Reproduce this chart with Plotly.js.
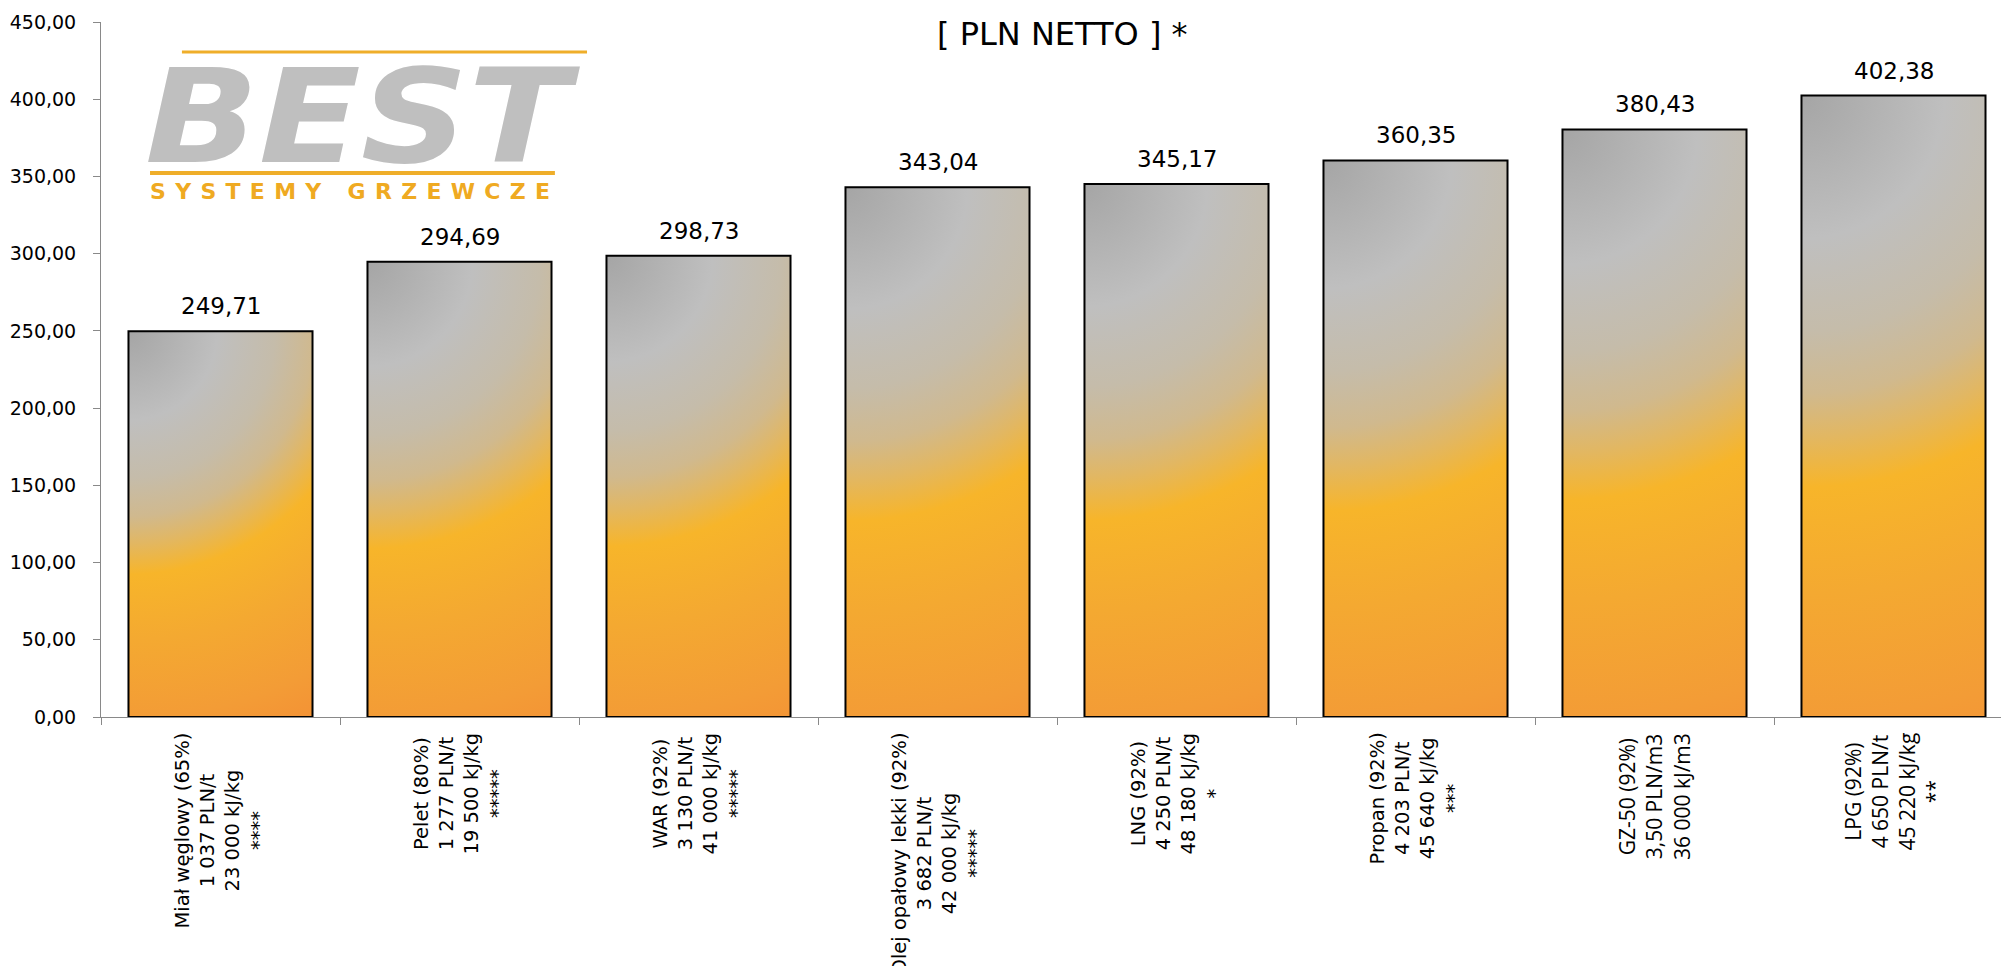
<!DOCTYPE html>
<html>
<head>
<meta charset="utf-8">
<script src="https://cdn.plot.ly/plotly-3.0.1.min.js"></script>
<style>
  html, body { margin: 0; padding: 0; background: #ffffff; }
  #chart { width: 2001px; height: 966px; }
</style>
</head>
<body>
<div id="chart"></div>
<script>
// ---- data ----
const fuels = ['Miał węglowy (65%)', 'Pelet (80%)', 'WAR (92%)', 'Olej opałowy lekki (92%)', 'LNG (92%)', 'Propan (92%)', 'GZ-50 (92%)', 'LPG (92%)'];
const prices = ['1 037 PLN/t', '1 277 PLN/t', '3 130 PLN/t', '3 682 PLN/t', '4 250 PLN/t', '4 203 PLN/t', '3,50 PLN/m3', '4 650 PLN/t'];
const calorific = ['23 000 kJ/kg', '19 500 kJ/kg', '41 000 kJ/kg', '42 000 kJ/kg', '48 180 kJ/kg', '45 640 kJ/kg', '36 000 kJ/m3', '45 220 kJ/kg'];
const notes = ['****', '*****', '*****', '*****', '*', '***', '', '**'];
const costs = [249.71, 294.69, 298.73, 343.04, 345.17, 360.35, 380.43, 402.38];
const yTickVals = [0, 50, 100, 150, 200, 250, 300, 350, 400, 450];
const titleText = '[ PLN NETTO ] *';
const logoMain = 'BEST';
const logoSub = 'SYSTEMY GRZEWCZE';

// ---- helpers ----
const fmt = v => v.toFixed(2).replace('.', ',');
const labelFont = i => (fuels[i].startsWith('GZ') || fuels[i].startsWith('LPG'))
  ? { family: 'Open Sans', size: 21, color: '#000000' }
  : { family: 'DejaVu Sans', size: 19.5, color: '#000000' };

const annotations = [];

// value labels above bars
costs.forEach((v, i) => {
  annotations.push({
    x: fuels[i], y: v, xref: 'x', yref: 'y',
    text: fmt(v), showarrow: false,
    xanchor: 'center', yanchor: 'bottom', yshift: 10,
    font: { family: 'DejaVu Sans', size: 23, color: '#000000' }
  });
});

// rotated category labels
fuels.forEach((f, i) => {
  const lines = [f, prices[i], calorific[i], notes[i]].filter(s => s && s.length);
  annotations.push({
    x: f, y: -0.0201, xref: 'x', yref: 'paper',
    text: lines.join('<br>'), showarrow: false,
    textangle: -90, align: 'center',
    xanchor: 'center', yanchor: 'top',
    font: labelFont(i)
  });
});

// title (second line visible)
annotations.push({
  x: 0.5063, y: 0.9824, xref: 'paper', yref: 'paper',
  text: titleText, showarrow: false, xanchor: 'center', yanchor: 'middle',
  font: { family: 'DejaVu Sans', size: 32, color: '#000000' }
});

// logo
annotations.push({
  x: 0.0221, y: 0.7515, xref: 'paper', yref: 'paper',
  text: logoMain, showarrow: false, xanchor: 'left', yanchor: 'bottom', align: 'left',
  font: { family: 'DejaVu Sans', size: 130, color: '#bfbfbf', weight: 'bold', style: 'italic' }
});
annotations.push({
  x: 0.0247, y: 0.7776, xref: 'paper', yref: 'paper',
  text: logoSub, showarrow: false, xanchor: 'left', yanchor: 'top', align: 'left',
  font: { family: 'DejaVu Sans', size: 22, color: '#efaa22', weight: 'bold' }
});

const shapes = [
  { type: 'line', xref: 'paper', yref: 'paper', x0: 0.0426, x1: 0.2558, y0: 0.9568, y1: 0.9568,
    line: { color: '#efae2a', width: 3 } },
  { type: 'line', xref: 'paper', yref: 'paper', x0: 0.0258, x1: 0.2389, y0: 0.7827, y1: 0.7827,
    line: { color: '#efae2a', width: 4 } }
];

const trace = {
  type: 'bar',
  x: fuels,
  y: costs,
  marker: { color: '#f5ae30', line: { color: '#000000', width: 2 } },
  hoverinfo: 'skip'
};

const layout = {
  width: 2001, height: 966,
  margin: { l: 101, r: 0, t: 22, b: 249, pad: 0 },
  paper_bgcolor: '#ffffff', plot_bgcolor: '#ffffff',
  showlegend: false,
  separators: ', ',
  bargap: 0.23,
  font: { family: 'DejaVu Sans', color: '#000000' },
  xaxis: {
    type: 'category',
    range: [-0.5, 7.4498],
    showline: true, linecolor: '#898989', linewidth: 1,
    ticks: 'outside', ticklen: 7, tickcolor: '#898989', tickwidth: 1,
    tickson: 'boundaries',
    showticklabels: false, showgrid: false, zeroline: false, fixedrange: true
  },
  yaxis: {
    range: [0, 450],
    tickvals: yTickVals, tickformat: '.2f',
    showline: true, linecolor: '#898989', linewidth: 1,
    ticks: 'outside', ticklen: 7, tickcolor: '#898989', tickwidth: 1,
    ticklabelstandoff: 13,
    tickfont: { family: 'DejaVu Sans', size: 19, color: '#000000' },
    showgrid: false, zeroline: false, fixedrange: true
  },
  annotations: annotations,
  shapes: shapes
};

const NS = 'http://www.w3.org/2000/svg';
const gradStops = [
  [0.00, '#a5a5a5'],
  [0.23, '#bfbfbf'],
  [0.38, '#c5bcaa'],
  [0.48, '#d0b98e'],
  [0.55, '#e2b762'],
  [0.63, '#f7b52a'],
  [0.80, '#f4a931'],
  [1.00, '#f39c36'],
  [1.10, '#f39335']
];

function decorate() {
  const gd = document.getElementById('chart');
  const svg = gd.querySelector('.main-svg');
  if (!svg) return;
  let defs = svg.querySelector('defs');
  if (!defs) { defs = document.createElementNS(NS, 'defs'); svg.insertBefore(defs, svg.firstChild); }
  gd.querySelectorAll('.trace.bars path').forEach((p, i) => {
    const bb = p.getBBox();
    if (!bb.height) return;
    const id = 'bargrad' + i;
    const old = defs.querySelector('#' + id);
    if (old) old.remove();
    const g = document.createElementNS(NS, 'radialGradient');
    g.setAttribute('id', id);
    g.setAttribute('gradientUnits', 'userSpaceOnUse');
    g.setAttribute('cx', bb.x); g.setAttribute('cy', bb.y);
    g.setAttribute('fx', bb.x); g.setAttribute('fy', bb.y);
    g.setAttribute('r', bb.height * 1.1);
    gradStops.forEach(([o, c]) => {
      const s = document.createElementNS(NS, 'stop');
      s.setAttribute('offset', Math.min(1, o / 1.1));
      s.setAttribute('stop-color', c);
      g.appendChild(s);
    });
    defs.appendChild(g);
    p.style.fill = 'url(#' + id + ')';
  });
  gd.querySelectorAll('text.annotation-text').forEach(t => {
    const txt = t.textContent;
    if (txt === logoMain) {
      t.setAttribute('textLength', 425);
      t.setAttribute('lengthAdjust', 'spacingAndGlyphs');
    } else if (txt === logoSub) {
      t.setAttribute('textLength', 400);
      t.setAttribute('lengthAdjust', 'spacing');
    }
  });
}

Plotly.newPlot('chart', [trace], layout, { staticPlot: true, displayModeBar: false }).then(gd => {
  decorate();
  gd.on('plotly_afterplot', decorate);
});
</script>
</body>
</html>
